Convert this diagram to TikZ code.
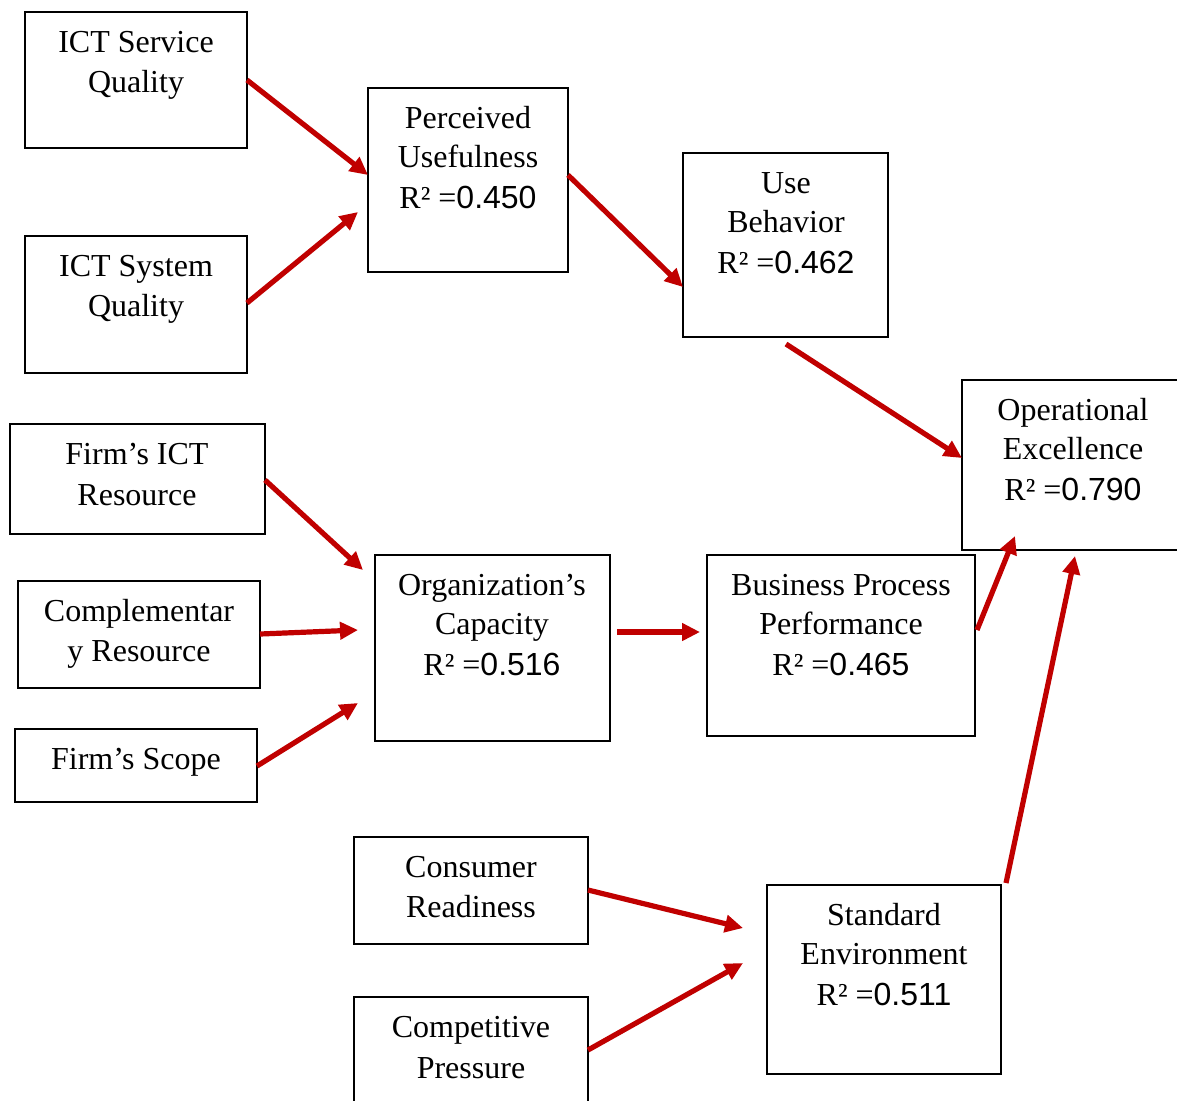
\documentclass[tikz,border=0pt]{standalone}
\usepackage{fontspec}
\setmainfont{Liberation Serif}
\newfontfamily\arialf{Liberation Sans}
\usetikzlibrary{arrows.meta,fit}
\definecolor{arrred}{HTML}{C00000}
\tikzset{
  box/.style={draw=black, line width=1pt, inner sep=0pt, fill=none},
  ln/.style={anchor=base, inner sep=0pt, font=\fontsize{16}{20}\selectfont, yshift=-0.5pt},
  arr/.style={draw=arrred, line width=2.6pt, -{Triangle[length=9pt,width=8.5pt]}}
}
\newcommand\rsq[1]{R² =\arialf #1}
\begin{document}
\begin{tikzpicture}[x=0.5pt,y=-0.5pt]
\useasboundingbox (0,0) rectangle (1177,1100);
\clip (0,0) rectangle (1177,1100);
\fill[white] (0,0) rectangle (1177,1100);

% boxes
\node[box, fit={(25,12) (247,148)}] (svc) {};
\node[box, fit={(25,236) (247,373)}] (sys) {};
\node[box, fit={(368,88) (568,272)}] (pu) {};
\node[box, fit={(683,153) (888,337)}] (ub) {};
\node[box, fit={(962,380) (1190,550)}] (oe) {};
\node[box, fit={(10,424) (265,534)}] (fir) {};
\node[box, fit={(18,581) (260,688)}] (cr) {};
\node[box, fit={(15,729) (257,802)}] (fs) {};
\node[box, fit={(375,555) (610,741)}] (oc) {};
\node[box, fit={(707,555) (975,736)}] (bpp) {};
\node[box, fit={(354,837) (588,944)}] (cons) {};
\node[box, fit={(354,997) (588,1115)}] (comp) {};
\node[box, fit={(767,885) (1001,1074)}] (se) {};

% texts
\node[ln] (svc1) at (136,51) {ICT Service};
\node[ln] (svc2) at (136,91) {Quality};
\node[ln] (sys1) at (136,275) {ICT System};
\node[ln] (sys2) at (136,315) {Quality};
\node[ln] (pu1) at (468,127) {Perceived};
\node[ln] (pu2) at (468,166) {Usefulness};
\node[ln] (pu3) at (468,207) {\rsq{0.450}};
\node[ln] (ub1) at (786,192) {Use};
\node[ln] (ub2) at (786,231) {Behavior};
\node[ln] (ub3) at (786,272) {\rsq{0.462}};
\node[ln] (oe1) at (1073,419) {Operational};
\node[ln] (oe2) at (1073,458) {Excellence};
\node[ln] (oe3) at (1073,499) {\rsq{0.790}};
\node[ln] (fir1) at (137,463) {Firm’s ICT};
\node[ln] (fir2) at (137,504) {Resource};
\node[ln] (cr1) at (139,620) {Complementar};
\node[ln] (cr2) at (139,660) {y Resource};
\node[ln] (fs1) at (136,768) {Firm’s Scope};
\node[ln] (oc1) at (492,594) {Organization’s};
\node[ln] (oc2) at (492,633) {Capacity};
\node[ln] (oc3) at (492,674) {\rsq{0.516}};
\node[ln] (bpp1) at (841,594) {Business Process};
\node[ln] (bpp2) at (841,633) {Performance};
\node[ln] (bpp3) at (841,674) {\rsq{0.465}};
\node[ln] (cons1) at (471,876) {Consumer};
\node[ln] (cons2) at (471,916) {Readiness};
\node[ln] (comp1) at (471,1036) {Competitive};
\node[ln] (comp2) at (471,1077) {Pressure};
\node[ln] (se1) at (884,924) {Standard};
\node[ln] (se2) at (884,963) {Environment};
\node[ln] (se3) at (884,1004) {\rsq{0.511}};

% arrow end points
\coordinate (a1s) at (247,80);   \coordinate (a1e) at (368,175);
\coordinate (a2s) at (247,303);  \coordinate (a2e) at (358,212);
\coordinate (a3s) at (568,175);  \coordinate (a3e) at (683,287);
\coordinate (a4s) at (786,344);  \coordinate (a4e) at (962,458);
\coordinate (a5s) at (265,480);  \coordinate (a5e) at (363,570);
\coordinate (a6s) at (260,634);  \coordinate (a6e) at (358,630);
\coordinate (a7s) at (257,766);  \coordinate (a7e) at (358,703);
\coordinate (a8s) at (617,632);  \coordinate (a8e) at (700,632);
\coordinate (a9s) at (977,630);  \coordinate (a9e) at (1015,536);
\coordinate (a10s) at (588,890); \coordinate (a10e) at (743,928);
\coordinate (a11s) at (588,1050);\coordinate (a11e) at (743,963);
\coordinate (a12s) at (1006,883);\coordinate (a12e) at (1075,556);

\draw[arr] (a1s) -- (a1e);
\draw[arr] (a2s) -- (a2e);
\draw[arr] (a3s) -- (a3e);
\draw[arr] (a4s) -- (a4e);
\draw[arr] (a5s) -- (a5e);
\draw[arr] (a6s) -- (a6e);
\draw[arr] (a7s) -- (a7e);
\draw[arr] (a8s) -- (a8e);
\draw[arr] (a9s) -- (a9e);
\draw[arr] (a10s) -- (a10e);
\draw[arr] (a11s) -- (a11e);
\draw[arr] (a12s) -- (a12e);
\end{tikzpicture}
\end{document}
